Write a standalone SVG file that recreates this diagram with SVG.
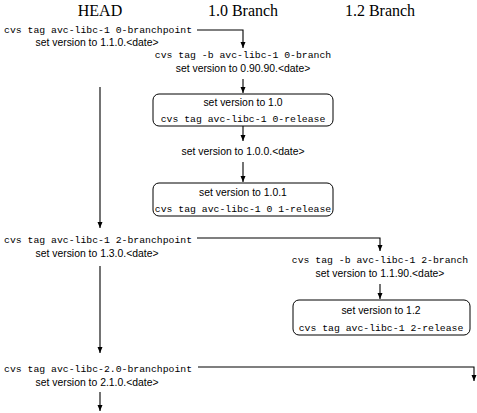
<svg xmlns="http://www.w3.org/2000/svg" width="477" height="413" viewBox="0 0 477 413">
<style>
.title{font-family:"Liberation Serif",serif;font-size:16px;fill:#000;text-anchor:middle}
.mono{font-family:"Liberation Mono",monospace;font-size:9.8px;fill:#000}
.sans{font-family:"Liberation Sans",Arial,sans-serif;font-size:10.4px;fill:#000;text-anchor:middle}
.mid{text-anchor:middle}
.box{fill:#fff;stroke:#000;stroke-width:1}
.conn path{fill:none;stroke:#000;stroke-width:1.1}
.arr{marker-end:url(#ah)}
</style>
<defs>
<marker id="ah" markerUnits="userSpaceOnUse" markerWidth="8" markerHeight="6" refX="6" refY="3" orient="auto">
<path d="M0,0.5 L6,3 L0,5.5 z" fill="#000"/>
</marker>
</defs>
<rect width="477" height="413" fill="#fff"/>
<g id="titles">
<text class="title" x="100" y="16">HEAD</text>
<text class="title" x="243" y="16">1.0 Branch</text>
<text class="title" x="380" y="16">1.2 Branch</text>
</g>
<g class="conn" id="connectors">
<path d="M197 30 H243 V48" class="arr"/>
<path d="M243 79 V93" class="arr"/>
<path d="M243 126 V141" class="arr"/>
<path d="M243 162 V182" class="arr"/>
<path d="M100 87 V228" class="arr"/>
<path d="M197 238 H380 V251" class="arr"/>
<path d="M380 284 V299" class="arr"/>
<path d="M100 266 V353" class="arr"/>
<path d="M198 367 H474 V381" class="arr"/>
<path d="M100 392 V411" class="arr"/>
</g>
<g id="n1">
<text class="mono" x="4" y="33">cvs tag avc-libc-1 0-branchpoint</text>
<text class="sans" x="97" y="46">set version to 1.1.0.&lt;date&gt;</text>
</g>
<g id="n2">
<text class="mono mid" x="243" y="58">cvs tag -b avc-libc-1 0-branch</text>
<text class="sans" x="243" y="72">set version to 0.90.90.&lt;date&gt;</text>
</g>
<g id="n3">
<rect class="box" x="153" y="94" width="180" height="32" rx="6"/>
<text class="sans" x="243" y="106">set version to 1.0</text>
<text class="mono mid" x="243" y="122">cvs tag avc-libc-1 0-release</text>
</g>
<g id="n4">
<text class="sans" x="243" y="155">set version to 1.0.0.&lt;date&gt;</text>
</g>
<g id="n5">
<rect class="box" x="153" y="183" width="180" height="33" rx="6"/>
<text class="sans" x="243" y="196">set version to 1.0.1</text>
<text class="mono mid" x="243" y="212">cvs tag avc-libc-1 0 1-release</text>
</g>
<g id="n6">
<text class="mono" x="4" y="243">cvs tag avc-libc-1 2-branchpoint</text>
<text class="sans" x="97" y="257">set version to 1.3.0.&lt;date&gt;</text>
</g>
<g id="n7">
<text class="mono mid" x="380" y="263">cvs tag -b avc-libc-1 2-branch</text>
<text class="sans" x="380" y="277">set version to 1.1.90.&lt;date&gt;</text>
</g>
<g id="n8">
<rect class="box" x="293" y="300" width="177" height="35" rx="6"/>
<text class="sans" x="381" y="314">set version to 1.2</text>
<text class="mono mid" x="381" y="331">cvs tag avc-libc-1 2-release</text>
</g>
<g id="n9">
<text class="mono" x="4" y="372">cvs tag avc-libc-2.0-branchpoint</text>
<text class="sans" x="97" y="386">set version to 2.1.0.&lt;date&gt;</text>
</g>
</svg>
